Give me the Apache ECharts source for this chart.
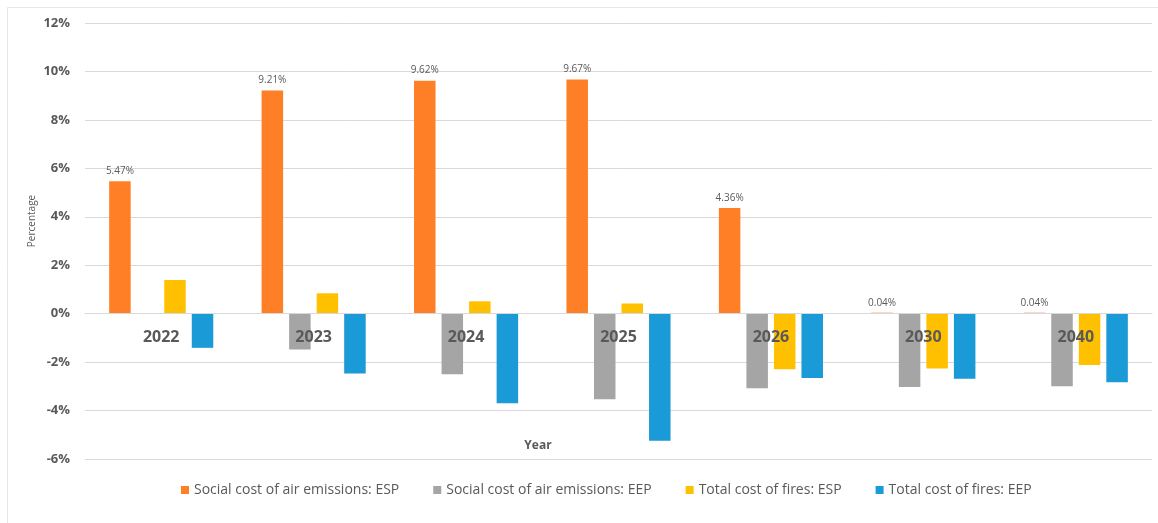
<!DOCTYPE html>
<html>
<head>
<meta charset="utf-8">
<script src="https://cdn.jsdelivr.net/npm/echarts@6/dist/echarts.min.js"></script>
<style>
  html, body { margin: 0; padding: 0; background: #ffffff; }
  #chart { width: 1158px; height: 523px; }
</style>
</head>
<body>
<div id="chart"></div>
<script>
// Years on the category axis
const years = ['2022', '2023', '2024', '2025', '2026', '2030', '2040'];

// Percentage change per year for each indicator
const airEsp   = [5.47, 9.21, 9.62, 9.67, 4.36, 0.04, 0.04];
const airEep   = [0, -1.48, -2.50, -3.53, -3.08, -3.03, -3.00];
const firesEsp = [1.39, 0.84, 0.51, 0.42, -2.29, -2.26, -2.12];
const firesEep = [-1.41, -2.47, -3.70, -5.25, -2.66, -2.69, -2.83];

// Value axis range and tick step
const yMin = -6;
const yMax = 12;
const yStep = 2;

const seriesNames = [
  'Social cost of air emissions: ESP',
  'Social cost of air emissions: EEP',
  'Total cost of fires: ESP',
  'Total cost of fires: EEP'
];
const seriesColors = ['#FF7F27', '#A5A5A5', '#FFC000', '#1A9AD6'];

const textGray = '#595959';
const gridGray = '#D9D9D9';

const chartW = 1158, chartH = 523;
const grid = { left: 85, right: 6, top: 23, bottom: 64 };
const plotH = chartH - grid.top - grid.bottom;
// Shift the category axis up so it sits on the 0% line
const zeroOffset = -((0 - yMin) / (yMax - yMin)) * plotH;

const chart = echarts.init(document.getElementById('chart'), null, { renderer: 'canvas' });

function barSeries(idx, data, withLabel) {
  return {
    name: seriesNames[idx],
    type: 'bar',
    data: data,
    barGap: '28%',
    barCategoryGap: '31.7%',
    itemStyle: { color: seriesColors[idx] },
    label: withLabel ? {
      show: true,
      position: 'top',
      distance: 5,
      fontFamily: 'Open Sans',
      fontSize: 10,
      color: textGray,
      formatter: p => p.value.toFixed(2) + '%'
    } : { show: false },
    emphasis: { disabled: true }
  };
}

chart.setOption({
  animation: false,
  backgroundColor: '#ffffff',
  grid: Object.assign({ containLabel: false }, grid),
  legend: {
    data: seriesNames,
    bottom: 21,
    left: 176,
    itemWidth: 8,
    itemHeight: 8,
    itemGap: 34,
    icon: 'rect',
    textStyle: { fontFamily: 'Open Sans', fontSize: 14, color: textGray }
  },
  xAxis: {
    type: 'category',
    data: years,
    position: 'bottom',
    offset: zeroOffset,
    z: 10,
    axisLine: { show: true, onZero: false, lineStyle: { color: gridGray, width: 1 } },
    axisTick: { show: false },
    axisLabel: {
      margin: 16,
      fontFamily: 'Open Sans',
      fontWeight: 'bold',
      fontSize: 16,
      color: textGray
    }
  },
  yAxis: {
    type: 'value',
    min: yMin,
    max: yMax,
    interval: yStep,
    axisLine: { show: false },
    axisTick: { show: false },
    splitLine: { lineStyle: { color: gridGray, width: 1 } },
    axisLabel: {
      margin: 15,
      fontFamily: 'Open Sans',
      fontWeight: 'bold',
      fontSize: 13,
      color: textGray,
      formatter: v => v + '%'
    }
  },
  graphic: [
    {
      type: 'line',
      shape: { x1: 7.5, y1: 7.5, x2: chartW, y2: 7.5 },
      style: { stroke: '#E6E6E6', lineWidth: 1 },
      silent: true
    },
    {
      type: 'line',
      shape: { x1: 7.5, y1: 7.5, x2: 7.5, y2: chartH },
      style: { stroke: '#E6E6E6', lineWidth: 1 },
      silent: true
    },
    {
      type: 'text',
      x: 32,
      y: 221,
      rotation: Math.PI / 2,
      style: {
        text: 'Percentage',
        fontFamily: 'Open Sans',
        fontSize: 10,
        fill: textGray,
        align: 'center',
        verticalAlign: 'middle'
      },
      silent: true
    },
    {
      type: 'text',
      x: 538,
      y: 446,
      style: {
        text: 'Year',
        fontFamily: 'Open Sans',
        fontWeight: 'bold',
        fontSize: 12,
        fill: textGray,
        align: 'center',
        verticalAlign: 'middle'
      },
      silent: true
    }
  ],
  series: [
    barSeries(0, airEsp, true),
    barSeries(1, airEep, false),
    barSeries(2, firesEsp, false),
    barSeries(3, firesEep, false)
  ]
});
</script>
</body>
</html>
